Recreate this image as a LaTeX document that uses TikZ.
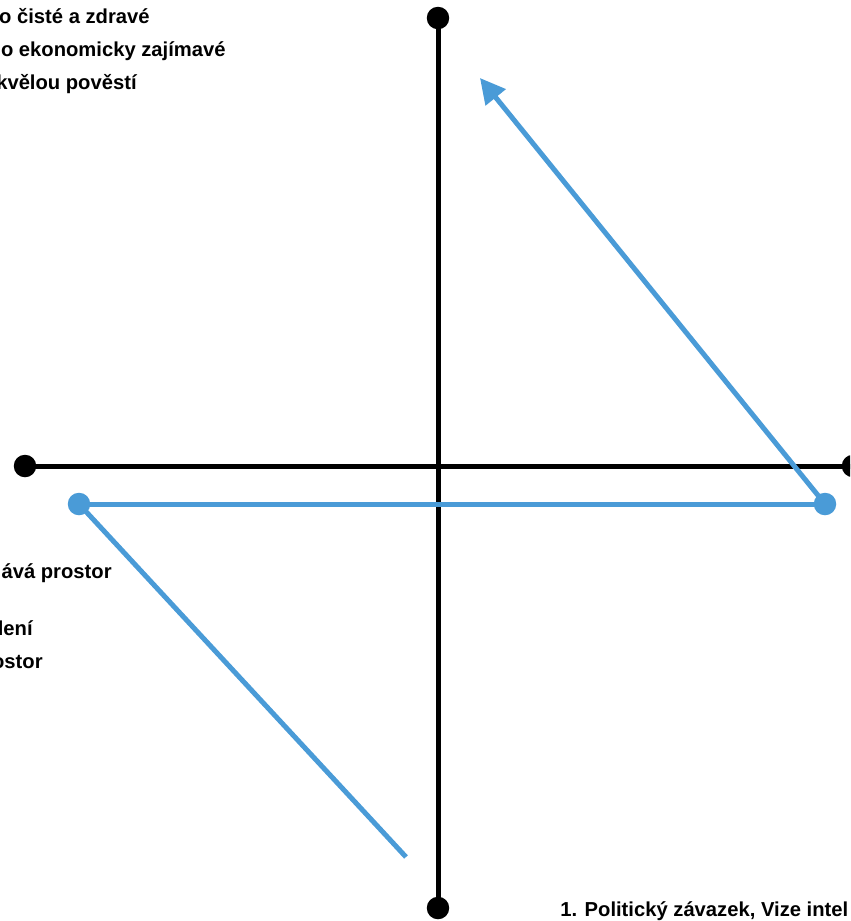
\documentclass[tikz,border=0pt]{standalone}
\usepackage{fontspec}
\setmainfont{Liberation Sans}
\usetikzlibrary{arrows.meta}
\definecolor{flowblue}{RGB}{74,155,215}
\begin{document}
\begin{tikzpicture}[x=0.02cm, y=-0.02cm,
  axis/.style={line width=0.1cm, black},
  flow/.style={line width=0.1cm, flowblue},
  dot/.style={circle, fill=black, inner sep=0pt, minimum size=0.45cm},
  bluedot/.style={circle, fill=flowblue, inner sep=0pt, minimum size=0.45cm},
  lbl/.style={inner sep=0pt, font=\bfseries\fontsize{11.5}{14}\selectfont}]
  \useasboundingbox (0,0) rectangle (850,921);
  \clip (0,0) rectangle (850,921);
  % axes
  \node[dot] (top) at (438,18) {};
  \node[dot] (bottom) at (438,908) {};
  \node[dot] (left) at (25,466) {};
  \node[dot] (right) at (853,466) {};
  \draw[axis] (top.center) -- (bottom.center);
  \draw[axis] (left.center) -- (right.center);
  % blue path
  \node[bluedot] (start) at (79,504) {};
  \node[bluedot] (turn) at (825,504) {};
  \coordinate (lowend) at (406,857);
  \coordinate (tip) at (480,78);
  \draw[flow] (lowend) -- (start.center);
  \draw[flow] (start.center) -- (turn.center);
  \draw[flow, -{Triangle[length=0.5cm, width=0.5cm]}] (turn.center) -- (tip);
  % labels
  \node[lbl, anchor=base east] (t1) at (150,23) {o čisté a zdravé};
  \node[lbl, anchor=base east] (t2) at (226,56) {o ekonomicky zajímavé};
  \node[lbl, anchor=base east] (t3) at (137,89) {kvělou pověstí};
  \node[lbl, anchor=base east] (m1) at (112,578) {ává prostor};
  \node[lbl, anchor=base east] (m2) at (33,635) {lení};
  \node[lbl, anchor=base east] (m3) at (43,668) {ostor};
  \node[lbl, anchor=base west] (b1) at (560,916) {1. Politický závazek, Vize intel};
\end{tikzpicture}
\end{document}
